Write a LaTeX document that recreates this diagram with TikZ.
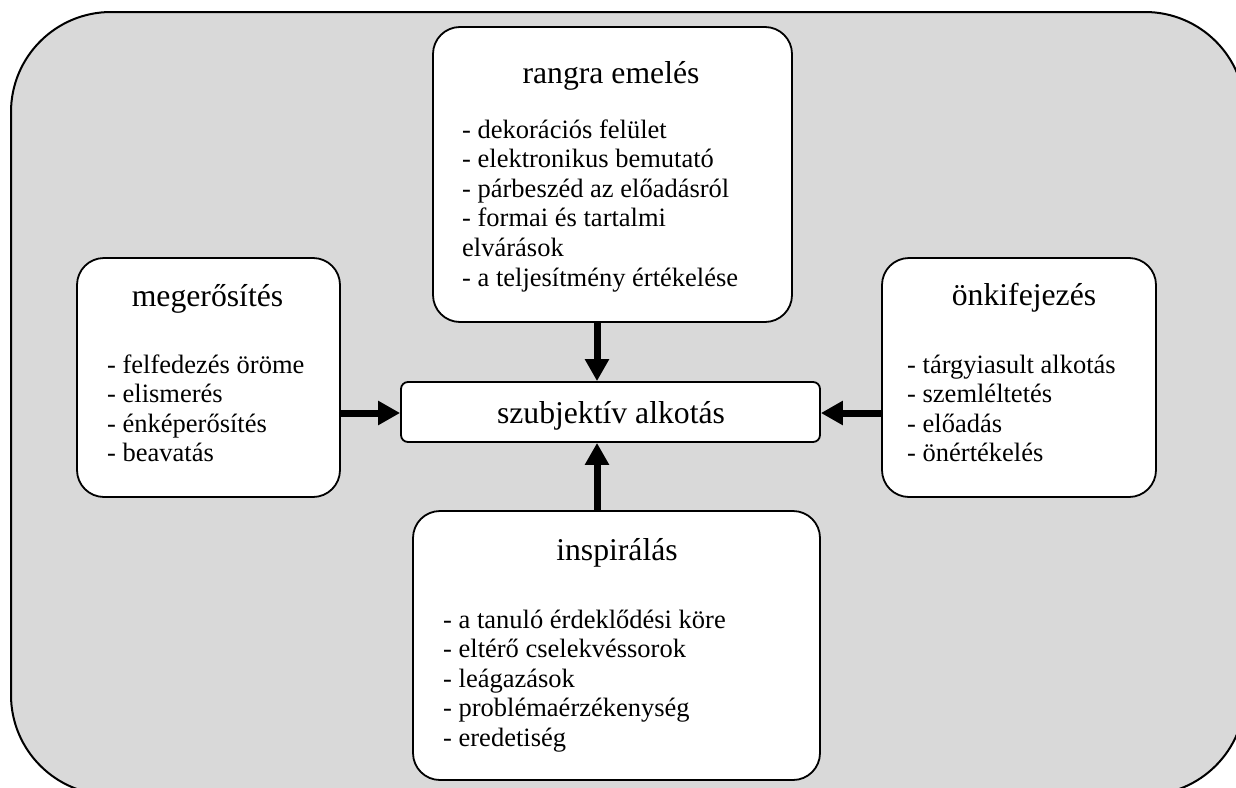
\documentclass[tikz,border=0pt]{standalone}
\usepackage{fontspec}
\setmainfont{Liberation Serif}
\usetikzlibrary{arrows.meta}
\definecolor{bgc}{HTML}{D9D9D9}
\begin{document}
\begin{tikzpicture}[x=1pt,y=-1pt,
  box/.style={draw, line width=1.8pt, fill=white, rounded corners=27pt, inner sep=0pt},
  ctrbox/.style={draw, line width=1.8pt, fill=white, rounded corners=7pt, inner sep=0pt},
  title/.style={anchor=base, inner sep=0pt, font=\fontsize{31.7}{36}\selectfont},
  items/.style={anchor=base west, inner sep=0pt, font=\fontsize{26.5}{29.6}\selectfont},
  arr/.style={line width=7pt, -{Triangle[width=23pt,length=22pt]}}]
\useasboundingbox (0,0) rectangle (1236,787);
\draw[line width=2pt, fill=bgc, rounded corners=100pt] (11,12) rectangle (1245,795);

% boxes
\node[box, minimum width=359pt, minimum height=295pt] (top) at (612.5,174.5) {};
\node[box, minimum width=263pt, minimum height=239pt] (lft) at (208.5,377.5) {};
\node[box, minimum width=274pt, minimum height=239pt] (rgt) at (1019,377.5) {};
\node[box, minimum width=407pt, minimum height=269pt] (bot) at (616.5,645.5) {};
\node[ctrbox, minimum width=419pt, minimum height=60pt] (ctr) at (610.5,412) {};

% texts
\node[title] (topt) at (611,83) {rangra emelés};
\node[items] (topi) at (462,138) {\parbox[t]{320pt}{\raggedright
- dekorációs felület\\
- elektronikus bemutató\\
- párbeszéd az előadásról\\
- formai és tartalmi\\
elvárások\\
- a teljesítmény értékelése}};

\node[title] (lftt) at (207.5,306) {megerősítés};
\node[items] (lfti) at (107,373) {\parbox[t]{230pt}{\raggedright
- felfedezés öröme\\
- elismerés\\
- énképerősítés\\
- beavatás}};

\node[title] (rgtt) at (1024,305) {önkifejezés};
\node[items] (rgti) at (907,373) {\parbox[t]{240pt}{\raggedright
- tárgyiasult alkotás\\
- szemléltetés\\
- előadás\\
- önértékelés}};

\node[title] (bott) at (617,560) {inspirálás};
\node[items] (boti) at (443,628) {\parbox[t]{370pt}{\raggedright
- a tanuló érdeklődési köre\\
- eltérő cselekvéssorok\\
- leágazások\\
- problémaérzékenység\\
- eredetiség}};

\node[title] (ctrt) at (611,423) {szubjektív alkotás};

% connectors
\coordinate (ax) at (597,0);
\coordinate (ay) at (0,413);
\draw[arr] (top.south -| ax) -- (ctr.north -| ax);
\draw[arr] (bot.north -| ax) -- (ctr.south -| ax);
\draw[arr] (lft.east |- ay) -- (ctr.west |- ay);
\draw[arr] (rgt.west |- ay) -- (ctr.east |- ay);
\end{tikzpicture}
\end{document}
